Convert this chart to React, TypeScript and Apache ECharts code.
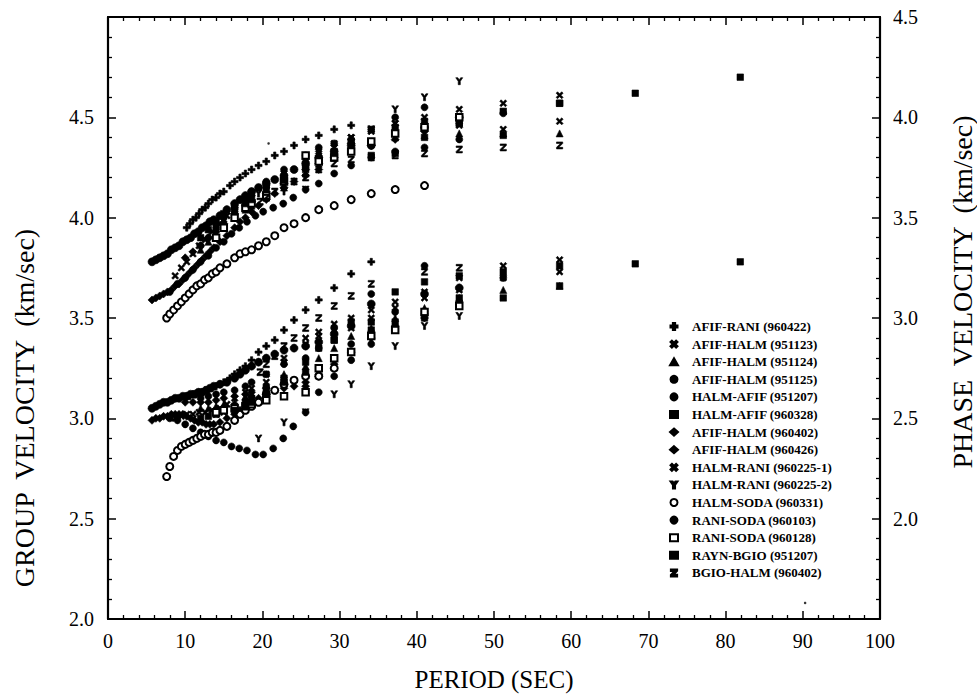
import React, { useEffect, useRef } from 'react';
import * as echarts from 'echarts';

const FONT = '"Liberation Serif", "Times New Roman", serif';

// Legend names (station pair + date)
const NAMES = [
  'AFIF-RANI (960422)', 'AFIF-HALM (951123)', 'AFIF-HALM (951124)', 'AFIF-HALM (951125)',
  'HALM-AFIF (951207)', 'HALM-AFIF (960328)', 'AFIF-HALM (960402)', 'AFIF-HALM (960426)',
  'HALM-RANI (960225-1)', 'HALM-RANI (960225-2)', 'HALM-SODA (960331)', 'RANI-SODA (960103)',
  'RANI-SODA (960128)', 'RAYN-BGIO (951207)', 'BGIO-HALM (960402)'
];

// Axis ticks
const X_TICKS = [0, 10, 20, 30, 40, 50, 60, 70, 80, 90, 100];
const GROUP_TICKS = ['2.0', '2.5', '3.0', '3.5', '4.0', '4.5'];
const PHASE_TICKS = ['2.0', '2.5', '3.0', '3.5', '4.0', '4.5'];

// 1 AFIF-RANI (960422)
const P1 = [10.2, 10.6, 11.0, 11.4, 11.8, 12.2, 12.6, 13.0, 13.5, 14.0, 14.5, 15.0, 15.8, 16.4, 17.1, 17.8, 18.6, 19.5, 20.5, 21.6, 22.8, 24.1, 25.6, 27.3, 29.3, 31.5, 34.1];
const C1 = [3.45, 3.47, 3.49, 3.50, 3.52, 3.54, 3.55, 3.57, 3.59, 3.60, 3.62, 3.63, 3.66, 3.68, 3.70, 3.72, 3.74, 3.76, 3.78, 3.81, 3.83, 3.86, 3.89, 3.91, 3.94, 3.96, null];
const U1 = [3.11, 3.11, 3.12, 3.12, 3.13, 3.13, 3.14, 3.14, 3.15, 3.16, 3.17, 3.18, 3.20, 3.22, 3.24, 3.26, 3.29, 3.33, 3.36, 3.39, 3.44, 3.49, 3.54, 3.59, 3.65, 3.72, 3.78];
// 2 AFIF-HALM (951123)
const P2 = [8.7, 9.5, 10.2, 11.0, 11.8, 12.6, 13.5, 14.5, 15.4, 16.4, 17.8, 18.6, 20.5, 22.8, 25.6, 27.3, 29.3, 31.5, 34.1, 37.2, 41.0, 45.5, 51.2, 58.5];
const C2 = [3.21, 3.25, 3.28, 3.32, 3.36, 3.39, 3.43, 3.47, 3.51, 3.55, 3.60, 3.62, 3.67, 3.72, 3.78, 3.83, 3.87, 3.90, 3.94, 3.97, 4.00, 4.04, 4.07, 4.11];
const U2 = [3.00, 3.01, 3.02, 3.02, 3.03, 3.03, 3.04, 3.05, 3.07, 3.10, 3.13, 3.15, 3.22, 3.30, 3.40, 3.43, 3.47, 3.50, 3.54, 3.58, 3.63, 3.70, 3.76, 3.79];
// 3 AFIF-HALM (951124)
const P3 = [12.0, 13.0, 14.0, 15.0, 16.4, 17.8, 18.6, 20.5, 22.8, 25.6, 27.3, 29.3, 31.5, 34.1, 37.2, 41.0, 45.5, 51.2, 58.5];
const C3 = [3.34, 3.38, 3.42, 3.46, 3.50, 3.54, 3.56, 3.60, 3.65, 3.72, 3.80, 3.83, 3.85, 3.88, 3.90, 3.91, 3.92, 3.92, 3.92];
const U3 = [3.05, 3.05, 3.06, 3.07, 3.08, 3.11, 3.12, 3.17, 3.22, 3.26, 3.30, 3.35, 3.41, 3.45, 3.50, 3.55, 3.60, 3.64, 3.66];
// 4 AFIF-HALM (951125)
const P4 = [8.0, 9.0, 10.0, 11.0, 12.0, 13.0, 14.0, 15.0, 16.0, 17.0, 18.0, 19.1, 20.1, 21.4, 22.7, 24.0, 25.6, 27.3, 29.3, 31.5, 34.1, 37.2, 41.0, 45.5];
const C4 = [3.13, 3.17, 3.20, 3.24, 3.28, 3.31, 3.35, 3.38, 3.42, 3.45, 3.48, 3.51, 3.53, 3.55, 3.57, 3.60, 3.64, 3.67, 3.72, 3.76, 3.80, 3.83, 3.85, 3.89];
const U4 = [3.00, 2.99, 2.97, 2.95, 2.93, 2.91, 2.89, 2.88, 2.86, 2.85, 2.84, 2.82, 2.82, 2.85, 2.90, 2.96, 3.03, 3.13, 3.21, 3.29, 3.37, 3.45, 3.52, 3.58];
// 5 HALM-AFIF (951207)
const P5 = [5.7, 6.2, 6.7, 7.2, 7.7, 8.2, 8.7, 9.2, 9.7, 10.2, 10.7, 11.2, 11.7, 12.2, 12.7, 13.2, 13.7, 14.5, 15.4, 16.4, 17.1, 17.8, 18.6, 19.5, 20.5, 21.6, 22.8, 24.1, 25.6, 27.3, 29.3, 31.5, 34.1, 41.0, 45.5];
const C5 = [3.28, 3.29, 3.30, 3.31, 3.32, 3.34, 3.35, 3.36, 3.38, 3.39, 3.40, 3.42, 3.43, 3.45, 3.46, 3.48, 3.49, 3.51, 3.54, 3.57, 3.59, 3.61, 3.63, 3.65, 3.67, 3.69, 3.71, 3.74, 3.77, 3.80, 3.83, 3.86, 3.86, 3.95, 4.00];
const U5 = [3.05, 3.06, 3.07, 3.08, 3.08, 3.09, 3.10, 3.10, 3.11, 3.11, 3.12, 3.12, 3.13, 3.13, 3.14, 3.15, 3.16, 3.17, 3.18, 3.20, 3.22, 3.24, 3.26, 3.28, 3.30, 3.32, 3.34, 3.35, 3.36, 3.38, 3.42, 3.46, 3.57, 3.62, 3.65];
// 6 HALM-AFIF (960328)
const P6 = [12.0, 13.0, 14.0, 15.0, 16.4, 17.8, 18.6, 20.5, 22.8, 25.6, 27.3, 29.3, 31.5, 34.1, 37.2, 41.0, 45.5, 51.2, 58.5];
const C6 = [3.40, 3.44, 3.48, 3.52, 3.56, 3.60, 3.62, 3.66, 3.70, 3.75, 3.79, 3.83, 3.88, 3.94, 3.95, 3.98, 3.97, 4.03, 4.07];
const U6 = [3.00, 3.01, 3.02, 3.04, 3.06, 3.08, 3.10, 3.15, 3.20, 3.28, 3.35, 3.39, 3.48, 3.48, 3.63, 3.68, 3.71, 3.73, 3.76];
// 7 AFIF-HALM (960402)
const P7 = [10.0, 11.0, 12.0, 13.0, 14.0, 15.0, 16.4, 17.8, 18.6, 20.5, 22.8, 25.6, 27.3, 29.3, 31.5, 34.1, 37.2, 41.0];
const C7 = [3.30, 3.33, 3.36, 3.40, 3.43, 3.47, 3.52, 3.56, 3.58, 3.62, 3.67, 3.74, 3.77, 3.80, 3.87, 3.86, 3.89, 3.93];
const U7 = [3.08, 3.08, 3.08, 3.08, 3.09, 3.10, 3.11, 3.12, 3.13, 3.15, 3.17, 3.18, 3.22, 3.27, 3.33, 3.40, 3.46, 3.50];
// 8 AFIF-HALM (960426)
const P8 = [5.7, 6.2, 6.7, 7.2, 7.7, 8.2, 8.7, 9.2, 9.7, 10.2, 10.7, 11.2, 11.7, 12.2, 12.7, 13.2, 13.7, 14.5, 15.4, 16.4, 17.1, 17.8, 18.6, 19.5, 20.5, 21.6, 22.8, 24.1, 25.6, 27.3];
const C8 = [3.09, 3.10, 3.11, 3.12, 3.13, 3.14, 3.16, 3.17, 3.19, 3.21, 3.23, 3.25, 3.27, 3.29, 3.31, 3.33, 3.35, 3.38, 3.41, 3.45, 3.48, 3.50, 3.53, 3.56, 3.59, 3.62, 3.65, 3.68, 3.71, 3.74];
const U8 = [2.99, 3.00, 3.00, 3.01, 3.01, 3.02, 3.02, 3.02, 3.02, 3.01, 3.00, 2.99, 2.98, 2.98, 2.97, 2.97, 2.97, 2.98, 3.00, 3.02, 3.04, 3.06, 3.08, 3.10, 3.12, 3.14, 3.15, 3.16, 3.16, 3.21];
// 9 HALM-RANI (960225-1)
const P9 = [14.0, 15.0, 16.4, 17.8, 18.6, 20.5, 22.8, 25.6, 27.3, 29.3, 31.5, 34.1, 37.2, 41.0, 45.5, 51.2, 58.5];
const C9 = [3.45, 3.49, 3.54, 3.58, 3.60, 3.64, 3.69, 3.77, 3.82, 3.85, 3.90, 3.93, 3.97, 3.96, 3.96, 3.94, 3.98];
const U9 = [3.02, 3.03, 3.05, 3.08, 3.10, 3.18, 3.28, 3.37, 3.41, 3.44, 3.45, 3.50, 3.55, 3.60, 3.64, 3.70, 3.73];
// 10 HALM-RANI (960225-2)
const P10 = [19.5, 22.8, 25.6, 29.3, 31.5, 34.1, 37.2, 41.0, 45.5];
const C10 = [3.62, 3.63, 3.64, 3.80, 3.86, 3.94, 4.04, 4.10, 4.18];
const U10 = [2.90, 2.98, 3.03, 3.12, 3.17, 3.26, 3.36, 3.46, 3.51];
// 11 HALM-SODA (960331)
const P11 = [7.6, 8.0, 8.5, 9.0, 9.5, 10.0, 10.5, 11.0, 11.5, 12.0, 12.5, 13.0, 13.5, 14.0, 14.5, 15.4, 16.4, 17.1, 17.8, 18.6, 19.5, 20.5, 21.6, 22.8, 24.1, 25.6, 27.3, 29.3, 31.5, 34.1, 37.2, 41.0];
const C11 = [3.00, 3.02, 3.04, 3.06, 3.08, 3.10, 3.12, 3.14, 3.16, 3.17, 3.19, 3.20, 3.22, 3.23, 3.25, 3.27, 3.30, 3.32, 3.33, 3.34, 3.36, 3.38, 3.41, 3.45, 3.47, 3.50, 3.54, 3.56, 3.59, 3.62, 3.64, 3.66];
const U11 = [2.71, 2.76, 2.81, 2.84, 2.86, 2.87, 2.88, 2.89, 2.90, 2.91, 2.92, 2.92, 2.93, 2.93, 2.94, 2.96, 2.99, 3.02, 3.04, 3.06, 3.08, 3.12, 3.14, 3.17, 3.19, 3.21, 3.21, 3.25, null, null, null, null];
// 12 RANI-SODA (960103)
const P12 = [12.0, 13.0, 14.0, 15.0, 16.4, 17.8, 18.6, 20.5, 22.8, 25.6, 27.3, 29.3, 31.5, 34.1, 37.2, 41.0, 51.2];
const C12 = [3.36, 3.40, 3.45, 3.50, 3.55, 3.60, 3.63, 3.68, 3.74, 3.81, 3.85, 3.87, 3.89, 3.86, 4.00, 4.05, 4.02];
const U12 = [3.10, 3.11, 3.12, 3.13, 3.14, 3.16, 3.18, 3.22, 3.27, 3.30, 3.35, 3.45, 3.37, 3.62, 3.53, 3.76, 3.70];
// 13 RANI-SODA (960128)
const P13 = [14.0, 15.0, 16.4, 17.8, 18.6, 20.5, 22.8, 25.6, 27.3, 29.3, 31.5, 34.1, 37.2, 41.0, 45.5];
const C13 = [3.40, 3.45, 3.50, 3.55, 3.57, 3.61, 3.68, 3.81, 3.78, 3.80, 3.83, 3.88, 3.92, 3.95, 4.00];
const U13 = [3.03, 3.04, 3.05, 3.06, 3.07, 3.09, 3.11, 3.13, 3.25, 3.30, 3.33, 3.41, 3.44, 3.53, 3.56];
// 14 RAYN-BGIO (951207)
const P14 = [16.4, 17.8, 18.6, 20.5, 22.8, 25.6, 29.3, 34.1, 37.2, 41.0, 45.5, 51.2, 58.5, 68.3, 81.9];
const C14 = [3.53, 3.57, 3.59, 3.64, 3.69, 3.74, 3.82, 3.81, 3.82, 3.90, 3.97, 3.91, 4.07, 4.12, 4.20];
const U14 = [3.04, 3.06, 3.08, 3.12, 3.18, 3.23, 3.39, 3.44, 3.48, 3.50, 3.60, 3.60, 3.66, 3.77, 3.78];
// 15 BGIO-HALM (960402)
const P15 = [19.7, 20.5, 21.6, 22.8, 24.1, 25.6, 27.3, 29.3, 31.5, 34.1, 37.2, 41.0, 45.5, 51.2, 58.5];
const C15 = [3.58, 3.60, 3.63, 3.66, 3.68, 3.70, 3.74, 3.77, 3.79, 3.80, 3.81, 3.82, 3.84, 3.85, 3.86];
const U15 = [3.23, 3.27, 3.31, 3.36, 3.40, 3.45, 3.50, 3.56, 3.61, 3.67, null, 3.73, 3.75, null, null];

// stray specks on the scan (period, group-axis value)
const SPECKS = [[20.8, 4.37], [90.3, 2.08]];

const PLUS = 'path://M3.4,0H6.6V3.4H10V6.6H6.6V10H3.4V6.6H0V3.4H3.4Z';
const CROSS = 'path://M2,0L5,3L8,0L10,2L7,5L10,8L8,10L5,7L2,10L0,8L3,5L0,2Z';
const YSYM = 'path://M0,0H3L5,3.2L7,0H10L6.5,5.2V10H3.5V5.2Z';
const ZSYM = 'path://M1,1H9V3L4,8H9V10H1V8L6,3H1Z';

const SYMBOLS = [PLUS, CROSS, 'triangle', 'circle', 'circle', 'rect', 'diamond', 'diamond', CROSS, YSYM, 'emptyCircle', 'circle', 'emptyRect', 'rect', ZSYM];
const SIZES = [7, 7, 7, 7, 8, 6.5, 8, 8, 7, 7, 7, 7, 6.5, 6.5, 7];
const PERIODS = [P1, P2, P3, P4, P5, P6, P7, P8, P9, P10, P11, P12, P13, P14, P15];
const PHASES = [C1, C2, C3, C4, C5, C6, C7, C8, C9, C10, C11, C12, C13, C14, C15];
const GROUPS = [U1, U2, U3, U4, U5, U6, U7, U8, U9, U10, U11, U12, U13, U14, U15];

function pairs(ps: number[], vs: (number | null)[]) {
  const out: number[][] = [];
  ps.forEach((p, i) => { if (vs[i] != null) out.push([p, vs[i] as number]); });
  return out;
}

function buildOption() {
  const series: any[] = [];
  NAMES.forEach((name, k) => {
    const empty = SYMBOLS[k].startsWith('empty');
    const common = {
      type: 'scatter', name, symbol: SYMBOLS[k], symbolSize: SIZES[k], symbolKeepAspect: true,
      itemStyle: { color: '#000', opacity: 1, borderColor: '#000', borderWidth: empty ? 1.8 : 0.6 },
      silent: true,
    };
    series.push({ ...common, yAxisIndex: 1, data: pairs(PERIODS[k], PHASES[k]) });
    series.push({ ...common, yAxisIndex: 0, data: pairs(PERIODS[k], GROUPS[k]) });
  });
  series.push({ type: 'scatter', name: 'specks', yAxisIndex: 0, symbol: 'circle', symbolSize: 2.5, itemStyle: { color: '#000' }, data: SPECKS, silent: true });

  const line = { show: true, onZero: false, lineStyle: { color: '#000', width: 2.2 } };
  const tick = { show: true, inside: true, length: 8, lineStyle: { color: '#000', width: 1.5 } };
  const minor = { show: true, splitNumber: 5, length: 4, lineStyle: { color: '#000', width: 1.3 } };
  const label = { color: '#000', fontFamily: FONT, fontSize: 20 };

  return {
    animation: false,
    backgroundColor: '#fff',
    grid: { left: 108, right: 97, top: 17, bottom: 77, containLabel: false },
    legend: {
      data: NAMES,
      orient: 'vertical',
      left: 664,
      top: 314,
      itemWidth: 8,
      itemHeight: 7,
      itemGap: 2.6,
      selectedMode: false,
      textStyle: { color: '#000', fontFamily: FONT, fontSize: 13, fontWeight: 'bold', lineHeight: 15, padding: [0, 0, 0, 9] },
    },
    xAxis: [
      {
        type: 'value', min: X_TICKS[0], max: X_TICKS[X_TICKS.length - 1], interval: 10, position: 'bottom',
        axisLine: line, axisTick: tick, minorTick: minor, splitLine: { show: false },
        axisLabel: { ...label, margin: 12 },
        name: 'PERIOD (SEC)', nameLocation: 'middle', nameGap: 48,
        nameTextStyle: { color: '#000', fontFamily: FONT, fontSize: 25 },
      },
      {
        type: 'value', min: X_TICKS[0], max: X_TICKS[X_TICKS.length - 1], interval: 10, position: 'top',
        axisLine: line, axisTick: tick, minorTick: minor, splitLine: { show: false }, axisLabel: { show: false },
      },
    ],
    yAxis: [
      {
        type: 'value', min: 2.0, max: 5.0, interval: 0.5, position: 'left',
        axisLine: line, axisTick: tick, minorTick: minor, splitLine: { show: false },
        axisLabel: { ...label, margin: 14, formatter: (v: number) => (GROUP_TICKS.includes(v.toFixed(1)) ? v.toFixed(1) : '') },
      },
      {
        type: 'value', min: 1.5, max: 4.5, interval: 0.5, position: 'right',
        axisLine: line, axisTick: tick, minorTick: minor, splitLine: { show: false },
        axisLabel: { ...label, margin: 13, formatter: (v: number) => (PHASE_TICKS.includes(v.toFixed(1)) ? v.toFixed(1) : '') },
      },
    ],
    graphic: [
      {
        type: 'text', x: 24, y: 408, rotation: Math.PI / 2,
        style: { text: 'GROUP  VELOCITY  (km/sec)', fill: '#000', font: `28px ${FONT}`, align: 'center', verticalAlign: 'middle' },
      },
      {
        type: 'text', x: 962, y: 292, rotation: Math.PI / 2,
        style: { text: 'PHASE  VELOCITY  (km/sec)', fill: '#000', font: `28px ${FONT}`, align: 'center', verticalAlign: 'middle' },
      },
    ],
    series,
  };
}

export default function App() {
  const ref = useRef<HTMLDivElement>(null);
  useEffect(() => {
    const chart = echarts.init(ref.current as HTMLDivElement, null, { renderer: 'svg' });
    chart.setOption(buildOption() as any);
    return () => chart.dispose();
  }, []);
  return <div ref={ref} style={{ position: 'fixed', left: 0, top: 0, width: 977, height: 697, background: '#fff' }} />;
}
